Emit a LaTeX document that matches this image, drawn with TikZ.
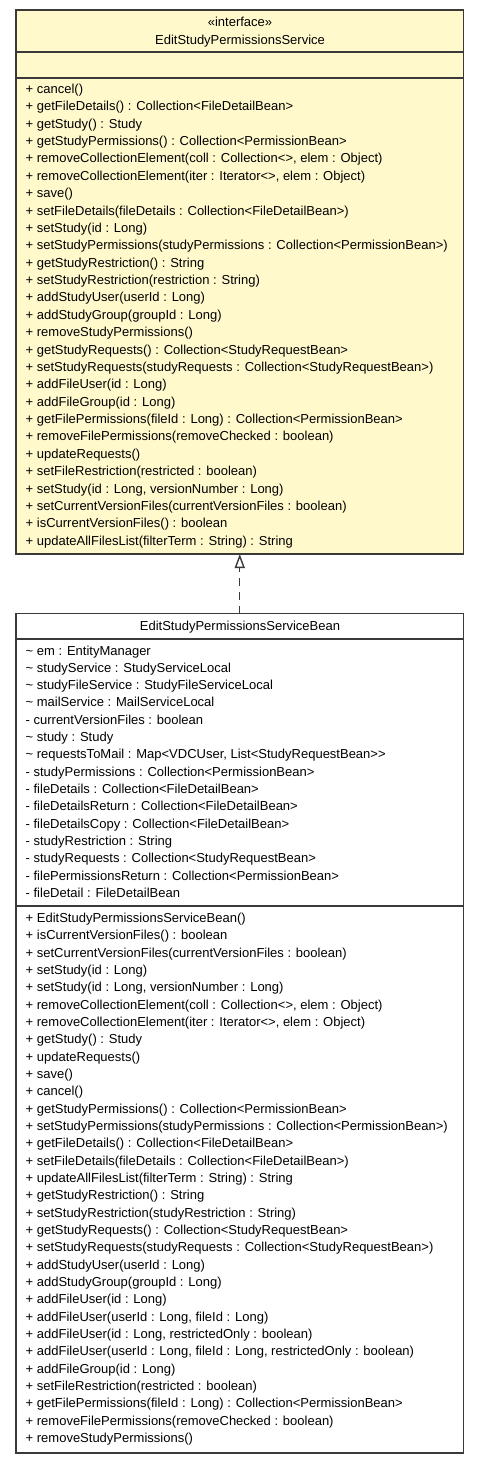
\documentclass[tikz,border=0pt]{standalone}
\usepackage{fontspec}
\setmainfont{Liberation Sans}
\usetikzlibrary{arrows.meta}
\definecolor{ifill}{HTML}{FFF9CC}
\definecolor{edgec}{HTML}{3A3A3A}
\tikzset{
  classbox/.style={draw=edgec, line width=1.4pt, anchor=north west, inner sep=0pt, outer sep=0pt},
  sepline/.style={draw=edgec, line width=1.4pt},
  member/.style={anchor=base west, inner sep=0pt, font=\fontsize{13}{17.35}\selectfont},
  title/.style={anchor=base, inner sep=0pt, font=\fontsize{13}{17.35}\selectfont},
  realize/.style={draw=edgec, line width=1.4pt, dash pattern=on 8pt off 6pt,
    -{Triangle[open, length=14pt, width=10pt, fill=white]}}
}
\begin{document}
\begin{tikzpicture}[x=1pt,y=-1pt]
\useasboundingbox (0,0) rectangle (480,1463);
% interface box
\node[classbox, fill=ifill, minimum width=447.5pt, minimum height=544pt] (iface) at (16,10) {};
\draw[sepline] (16,52) -- (463.5,52);
\draw[sepline] (16,78) -- (463.5,78);
\node[title] (ster) at (240,27) {«interface»};
\node[title] (iname) at (240,45) {EditStudyPermissionsService};
\foreach \t [count=\i] in {
{+ cancel()},
{+ getFileDetails() : Collection<FileDetailBean>},
{+ getStudy() : Study},
{+ getStudyPermissions() : Collection<PermissionBean>},
{+ removeCollectionElement(coll : Collection<>, elem : Object)},
{+ removeCollectionElement(iter : Iterator<>, elem : Object)},
{+ save()},
{+ setFileDetails(fileDetails : Collection<FileDetailBean>)},
{+ setStudy(id : Long)},
{+ setStudyPermissions(studyPermissions : Collection<PermissionBean>)},
{+ getStudyRestriction() : String},
{+ setStudyRestriction(restriction : String)},
{+ addStudyUser(userId : Long)},
{+ addStudyGroup(groupId : Long)},
{+ removeStudyPermissions()},
{+ getStudyRequests() : Collection<StudyRequestBean>},
{+ setStudyRequests(studyRequests : Collection<StudyRequestBean>)},
{+ addFileUser(id : Long)},
{+ addFileGroup(id : Long)},
{+ getFilePermissions(fileId : Long) : Collection<PermissionBean>},
{+ removeFilePermissions(removeChecked : boolean)},
{+ updateRequests()},
{+ setFileRestriction(restricted : boolean)},
{+ setStudy(id : Long, versionNumber : Long)},
{+ setCurrentVersionFiles(currentVersionFiles : boolean)},
{+ isCurrentVersionFiles() : boolean},
{+ updateAllFilesList(filterTerm : String) : String}}
  \node[member] (im\i) at (25.5,{93.5+17.37*(\i-1)}) {\t};
% implementation box
\node[classbox, fill=white, minimum width=447.5pt, minimum height=839.5pt] (impl) at (16,613.5) {};
\draw[sepline] (16,639) -- (463.5,639);
\draw[sepline] (16,906) -- (463.5,906);
\node[title] (bname) at (240,630) {EditStudyPermissionsServiceBean};
\foreach \t [count=\i] in {
{\textasciitilde{} em : EntityManager},
{\textasciitilde{} studyService : StudyServiceLocal},
{\textasciitilde{} studyFileService : StudyFileServiceLocal},
{\textasciitilde{} mailService : MailServiceLocal},
{- currentVersionFiles : boolean},
{\textasciitilde{} study : Study},
{\textasciitilde{} requestsToMail : Map<VDCUser, List<StudyRequestBean>{}>},
{- studyPermissions : Collection<PermissionBean>},
{- fileDetails : Collection<FileDetailBean>},
{- fileDetailsReturn : Collection<FileDetailBean>},
{- fileDetailsCopy : Collection<FileDetailBean>},
{- studyRestriction : String},
{- studyRequests : Collection<StudyRequestBean>},
{- filePermissionsReturn : Collection<PermissionBean>},
{- fileDetail : FileDetailBean}}
  \node[member] (ba\i) at (25.5,{655+17.33*(\i-1)}) {\t};
\foreach \t [count=\i] in {
{+ EditStudyPermissionsServiceBean()},
{+ isCurrentVersionFiles() : boolean},
{+ setCurrentVersionFiles(currentVersionFiles : boolean)},
{+ setStudy(id : Long)},
{+ setStudy(id : Long, versionNumber : Long)},
{+ removeCollectionElement(coll : Collection<>, elem : Object)},
{+ removeCollectionElement(iter : Iterator<>, elem : Object)},
{+ getStudy() : Study},
{+ updateRequests()},
{+ save()},
{+ cancel()},
{+ getStudyPermissions() : Collection<PermissionBean>},
{+ setStudyPermissions(studyPermissions : Collection<PermissionBean>)},
{+ getFileDetails() : Collection<FileDetailBean>},
{+ setFileDetails(fileDetails : Collection<FileDetailBean>)},
{+ updateAllFilesList(filterTerm : String) : String},
{+ getStudyRestriction() : String},
{+ setStudyRestriction(studyRestriction : String)},
{+ getStudyRequests() : Collection<StudyRequestBean>},
{+ setStudyRequests(studyRequests : Collection<StudyRequestBean>)},
{+ addStudyUser(userId : Long)},
{+ addStudyGroup(groupId : Long)},
{+ addFileUser(id : Long)},
{+ addFileUser(userId : Long, fileId : Long)},
{+ addFileUser(id : Long, restrictedOnly : boolean)},
{+ addFileUser(userId : Long, fileId : Long, restrictedOnly : boolean)},
{+ addFileGroup(id : Long)},
{+ setFileRestriction(restricted : boolean)},
{+ getFilePermissions(fileId : Long) : Collection<PermissionBean>},
{+ removeFilePermissions(removeChecked : boolean)},
{+ removeStudyPermissions()}}
  \node[member] (bm\i) at (25.5,{922.5+17.33*(\i-1)}) {\t};
% realization
\draw[realize] (impl.north) -- (iface.south);
\end{tikzpicture}
\end{document}
